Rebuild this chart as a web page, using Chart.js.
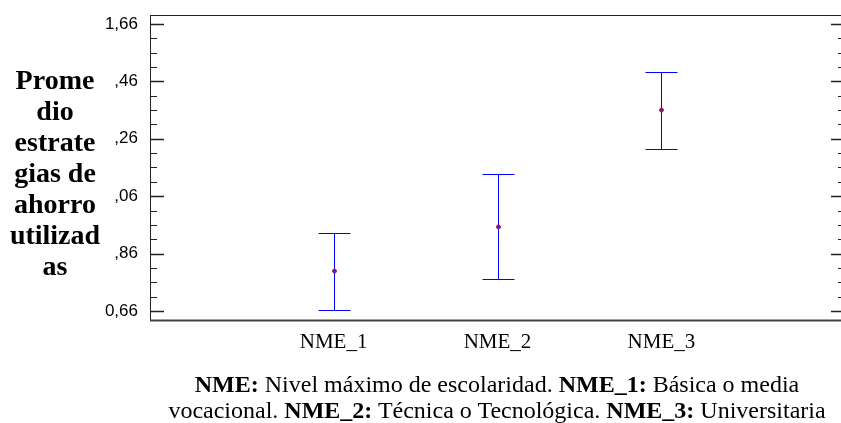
<!DOCTYPE html>
<html>
<head>
<meta charset="utf-8">
<script src="https://cdn.jsdelivr.net/npm/chart.js@4.4.1/dist/chart.umd.min.js"></script>
<style>
  html, body { margin: 0; padding: 0; background: #fff; overflow: hidden; }
  #wrap { position: relative; width: 841px; height: 423px; overflow: hidden; }
  #chart { position: absolute; left: 0; top: 0; }
  #ytitle {
    position: absolute; left: 5px; top: 64px; width: 100px;
    font: bold 28px "Liberation Serif", serif; line-height: 31px;
    text-align: center; color: #000;
  }
  #note {
    position: absolute; left: 97px; top: 371px; width: 800px;
    font: 24px "Liberation Serif", serif; line-height: 26px;
    text-align: center; color: #000; white-space: nowrap;
  }
</style>
</head>
<body>
<div id="wrap">
  <canvas id="chart" width="850" height="423"></canvas>
  <div id="ytitle">Prome<br>dio<br>estrate<br>gias de<br>ahorro<br>utilizad<br>as</div>
  <div id="note"><b>NME:</b> Nivel máximo de escolaridad. <b>NME_1:</b> Básica o media<br>vocacional. <b>NME_2:</b> Técnica o Tecnológica. <b>NME_3:</b> Universitaria</div>
</div>
<script>
// data
const categories = ['NME_1', 'NME_2', 'NME_3'];
const means = [0.799, 0.953, 1.360];
const lower = [0.665, 0.770, 1.223];
const upper = [0.931, 1.136, 1.494];

// y axis tick labels as printed (truncated in the original)
const yTickValues = [0.66, 0.86, 1.06, 1.26, 1.46, 1.66];
const yTickLabels = ['0,66', ',86', ',06', ',26', ',46', '1,66'];

const points = means.map((m, i) => ({ x: i + 1, y: m }));

// frame + inward ticks on left and right
const framePlugin = {
    id: 'frame',
    afterDraw(chart) {
        const { ctx, chartArea: a } = chart;
        const ys = chart.scales.y;
        ctx.save();
        ctx.strokeStyle = '#222';
        ctx.lineWidth = 1;
        ctx.strokeRect(a.left + 0.5, a.top + 0.5, a.right - a.left, a.bottom - a.top);
        ctx.lineWidth = 2;
        ctx.strokeStyle = '#444';
        ctx.beginPath();
        ctx.moveTo(a.left, a.bottom + 0.5);
        ctx.lineTo(a.right, a.bottom + 0.5);
        ctx.stroke();

        ctx.strokeStyle = '#222';
        for (let k = 0; k <= 20; k++) {
            const v = 0.66 + k * 0.05;
            const y = Math.round(ys.getPixelForValue(v)) + 0.5;
            const len = k % 4 === 0 ? 14 : 7;
            ctx.lineWidth = k % 4 === 0 ? 1.5 : 1;
            ctx.beginPath();
            ctx.moveTo(a.left, y);
            ctx.lineTo(a.left + len, y);
            ctx.moveTo(a.right, y);
            ctx.lineTo(a.right - len, y);
            ctx.stroke();
        }
        ctx.restore();
    }
};

// error bars from lower/upper arrays
const errorBarPlugin = {
    id: 'errorBars',
    afterDatasetsDraw(chart) {
        const { ctx } = chart;
        const xs = chart.scales.x, ys = chart.scales.y;
        means.forEach((m, i) => {
            const x = Math.round(xs.getPixelForValue(i + 1)) + 0.5;
            const yLo = Math.round(ys.getPixelForValue(lower[i])) + 0.5;
            const yHi = Math.round(ys.getPixelForValue(upper[i])) + 0.5;
            ctx.save();
            ctx.strokeStyle = '#0000ff';
            ctx.lineWidth = 1;
            ctx.beginPath();
            ctx.moveTo(x, yLo);
            ctx.lineTo(x, yHi);
            ctx.moveTo(x - 16, yHi);
            ctx.lineTo(x + 16, yHi);
            ctx.moveTo(x - 16, yLo);
            ctx.lineTo(x + 16, yLo);
            ctx.stroke();
            ctx.restore();
            // mean marker on top of the bar
            const ym = ys.getPixelForValue(m);
            ctx.save();
            ctx.fillStyle = '#5a2a8a';
            ctx.strokeStyle = '#a0204a';
            ctx.beginPath();
            ctx.arc(x, ym, 2, 0, Math.PI * 2);
            ctx.fill();
            ctx.stroke();
            ctx.restore();
        });
    }
};

new Chart(document.getElementById('chart').getContext('2d'), {
    type: 'scatter',
    data: {
        datasets: [{
            data: points,
            pointRadius: 0,
            pointHoverRadius: 0
        }]
    },
    options: {
        responsive: false,
        animation: false,
        layout: { padding: { top: 15, right: 5, bottom: 63, left: 0 } },
        plugins: {
            legend: { display: false },
            tooltip: { enabled: false }
        },
        scales: {
            x: {
                type: 'linear',
                min: -0.12,
                max: 4.12,
                grid: { display: false, drawTicks: false },
                border: { display: false },
                afterBuildTicks: s => { s.ticks = categories.map((c, i) => ({ value: i + 1 })); },
                afterFit: s => { s.height = 40; s.paddingLeft = 0; s.paddingRight = 0; },
                ticks: {
                    padding: 10,
                    color: '#000',
                    font: { family: 'Liberation Serif', size: 21 },
                    callback: v => categories[v - 1]
                }
            },
            y: {
                min: 0.6286,
                max: 1.6914,
                grid: { display: false, drawTicks: false },
                border: { display: false },
                afterBuildTicks: s => { s.ticks = yTickValues.map(v => ({ value: v })); },
                afterFit: s => { s.width = 150; s.paddingTop = 0; s.paddingBottom = 0; },
                ticks: {
                    padding: 12,
                    color: '#000',
                    font: { family: 'Liberation Sans', size: 17 },
                    callback: (v, i) => yTickLabels[i]
                }
            }
        }
    },
    plugins: [errorBarPlugin, framePlugin]
});
</script>
</body>
</html>
